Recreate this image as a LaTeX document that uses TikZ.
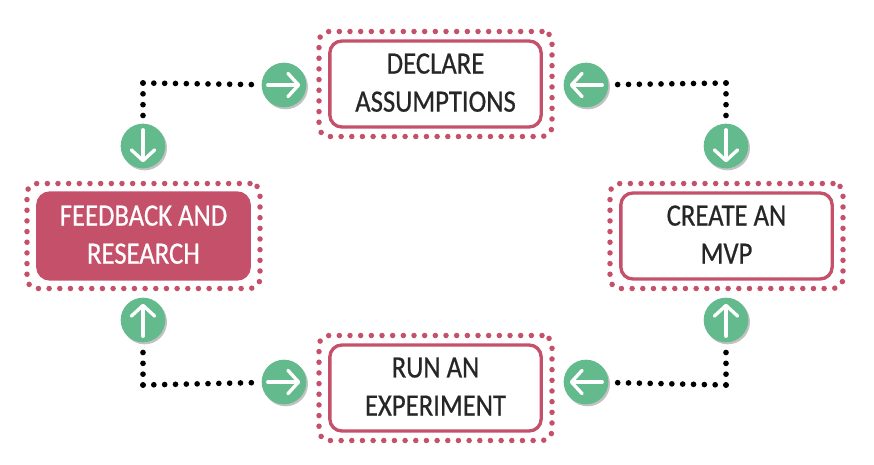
\documentclass[tikz,border=0pt]{standalone}
\usepackage{fontspec}
\usetikzlibrary{arrows.meta,calc,fit,shadows}
\newfontfamily\stepfont[FakeStretch=0.86,FakeBold=0.6]{Carlito}
\definecolor{rosered}{HTML}{C4506A}
\definecolor{mintgreen}{HTML}{63BB8D}
\tikzset{
  stepbox/.style={draw=rosered,line width=0.1cm,rounded corners=0.36cm,fill=white,text=black!85,
    minimum width=6.34cm,minimum height=2.58cm,align=center,
    font=\stepfont\fontsize{26.5}{32.5}\selectfont},
  activebox/.style={stepbox,fill=rosered,text=white},
  dotframe/.style={draw=rosered,line width=0.165cm,line cap=round,dash pattern=on 0pt off 0.32cm,
    rounded corners=0.3cm,inner xsep=0.275cm,inner ysep=0.235cm},
  dotline/.style={draw=black,line width=0.17cm,line cap=round,dash pattern=on 0pt off 0.325cm,shorten >=0.15cm},
  roundel/.style={circle,fill=mintgreen,minimum size=1.34cm,inner sep=0pt,
    drop shadow={shadow xshift=0.05cm,shadow yshift=-0.06cm,fill=black!40,opacity=0.6}},
  whitearrow/.style={draw=white,line width=0.1cm,line cap=round,
    -{Straight Barb[length=0.32cm,width=0.7cm,round]}},
}
\begin{document}
\begin{tikzpicture}[x=0.03cm,y=-0.03cm]
\useasboundingbox (0,0) rectangle (874,464);
% boxes
\node[stepbox] (declare) at (435.5,84) {DECLARE\\ASSUMPTIONS\\[-30pt]};
\node[activebox] (feedback) at (143.5,236) {FEEDBACK AND\\RESEARCH\\[-30pt]};
\node[stepbox] (create) at (726.5,236) {CREATE AN\\MVP\\[-30pt]};
\node[stepbox] (run) at (435.5,388) {RUN AN\\EXPERIMENT\\[-30pt]};
\foreach \n in {declare,feedback,create,run}
  \node[dotframe,fit=(\n)] (\n frame) {};
% round arrows
\foreach \n/\x/\y/\a in {topleft/284/85/0,topright/586/85/180,leftup/143/146/-90,rightup/726/146/-90,
  leftdown/143/320/90,rightdown/726/320/90,botleft/284/382/0,botright/586/382/180}{
  \node[roundel,rotate=\a] (\n) at (\x,\y) {};
  \draw[whitearrow] ($(\n)!0.72!(\n.180)$) -- ($(\n)!0.72!(\n.0)$);
}
% corners
\coordinate (nw) at (143,83);
\coordinate (ne) at (726,83);
\coordinate (sw) at (143,385);
\coordinate (se) at (726,385);
\draw[dotline] (nw) -- (topleft);
\draw[dotline] (nw) -- (leftup);
\draw[dotline] (ne) -- (topright);
\draw[dotline] (ne) -- (rightup);
\draw[dotline] (sw) -- (botleft);
\draw[dotline] (sw) -- (leftdown);
\draw[dotline] (se) -- (botright);
\draw[dotline] (se) -- (rightdown);
\end{tikzpicture}
\end{document}
